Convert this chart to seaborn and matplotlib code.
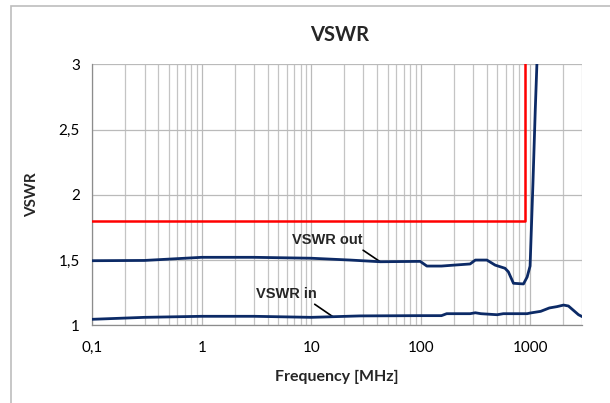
import numpy as np
import pandas as pd
import seaborn as sns
import matplotlib.pyplot as plt
from matplotlib.patches import Rectangle
from matplotlib.ticker import FixedLocator, NullFormatter

# VSWR out
freq_out = [0.1, 0.3, 1, 3, 10, 22.7, 42.7, 99, 114, 155, 200, 283, 316, 403,
            480, 590, 633, 705, 870, 940, 1000, 1062, 1115, 1154, 1200]
vswr_out = [1.495, 1.497, 1.521, 1.521, 1.514, 1.500, 1.487, 1.49, 1.454, 1.454,
            1.461, 1.47, 1.50, 1.50, 1.461, 1.437, 1.41, 1.322, 1.317, 1.37,
            1.454, 2.088, 2.65, 3.0, 3.4]

# VSWR in
freq_in = [0.1, 0.3, 1, 3, 10, 16, 28, 99, 155, 173, 283, 316, 355, 500, 570,
           940, 1000, 1250, 1500, 1758, 2022, 2240, 2770, 3000]
vswr_in = [1.046, 1.061, 1.069, 1.069, 1.061, 1.066, 1.072, 1.074, 1.074, 1.089,
           1.089, 1.096, 1.089, 1.081, 1.089, 1.089, 1.094, 1.107, 1.133, 1.143,
           1.155, 1.148, 1.081, 1.066]

# limit mask
freq_lim = [0.1, 900, 900]
vswr_lim = [1.8, 1.8, 3.5]

x_ticks = [0.1, 1, 10, 100, 1000]
x_labels = ['0,1', '1', '10', '100', '1000']
y_ticks = [1, 1.5, 2, 2.5, 3]
y_labels = ['1', '1,5', '2', '2,5', '3']

sns.set_style("white")
plt.rcParams['font.family'] = ['Lato', 'DejaVu Sans']

fig = plt.figure(figsize=(6.1, 4.03), dpi=100)
ax = fig.add_axes([0.1513, 0.1928, 0.9546 - 0.1513, 0.8404 - 0.1928])

# chart border
fig.patches.append(Rectangle((0.018, -0.1), 1.2, 0.985 + 0.1, transform=fig.transFigure,
                             fill=False, edgecolor='#bdbdbd', lw=1.2))

navy = '#0c2a66'
df_out = pd.DataFrame({'f': freq_out, 'v': vswr_out})
df_in = pd.DataFrame({'f': freq_in, 'v': vswr_in})
df_lim = pd.DataFrame({'f': freq_lim, 'v': vswr_lim})

sns.lineplot(data=df_lim, x='f', y='v', ax=ax, color='#ff0000', lw=1.8,
             sort=False, estimator=None, zorder=3)
sns.lineplot(data=df_out, x='f', y='v', ax=ax, color=navy, lw=2.0,
             sort=False, estimator=None, zorder=4)
sns.lineplot(data=df_in, x='f', y='v', ax=ax, color=navy, lw=2.0,
             sort=False, estimator=None, zorder=4)

ax.set_xscale('log')
ax.set_xlim(0.1, 3000)
ax.set_ylim(1, 3)

minor = [m * 10.0 ** e for e in range(-1, 4) for m in range(2, 10) if m * 10.0 ** e <= 3000]
ax.xaxis.set_major_locator(FixedLocator(x_ticks))
ax.xaxis.set_minor_locator(FixedLocator(minor))
ax.xaxis.set_minor_formatter(NullFormatter())
ax.set_xticks(x_ticks)
ax.set_xticklabels(x_labels)
ax.set_yticks(y_ticks)
ax.set_yticklabels(y_labels)

ax.grid(True, which='major', axis='both', color='#bababa', lw=0.9)
ax.grid(True, which='minor', axis='x', color='#c4c4c4', lw=0.9)
ax.set_axisbelow(True)

for s in ['top', 'right']:
    ax.spines[s].set_visible(False)
for s in ['left', 'bottom']:
    ax.spines[s].set_color('#8c8c8c')
    ax.spines[s].set_linewidth(0.9)

ax.tick_params(axis='both', which='major', length=4, width=0.8, color='#8c8c8c',
               labelsize=11, labelcolor='black', pad=7)
ax.tick_params(axis='x', which='minor', length=0)
ax.tick_params(axis='y', pad=5)

ax.set_xlabel('Frequency [MHz]', fontsize=11.5, fontweight='bold', labelpad=11)
ax.set_ylabel('VSWR', fontsize=11, fontweight='bold', labelpad=14)
fig.text(0.556, 0.913, 'VSWR', ha='center', va='center', fontsize=14.5, fontweight='bold')

# series labels with leader lines
ax.annotate('VSWR out', xy=(42.7, 1.487), xytext=(14.0, 1.654), ha='center', va='center',
            fontsize=10.5, fontweight='bold', family=['Liberation Sans', 'DejaVu Sans'],
            arrowprops=dict(arrowstyle='-', color='black', lw=1.2, shrinkA=0, shrinkB=0,
                            relpos=(0.97, -0.1)))
ax.annotate('VSWR in', xy=(15.9, 1.064), xytext=(5.97, 1.24), ha='center', va='center',
            fontsize=10.5, fontweight='bold', family=['Liberation Sans', 'DejaVu Sans'],
            arrowprops=dict(arrowstyle='-', color='black', lw=1.2, shrinkA=0, shrinkB=0,
                            relpos=(0.95, -0.2)))

fig.savefig('out.png', dpi=100)
